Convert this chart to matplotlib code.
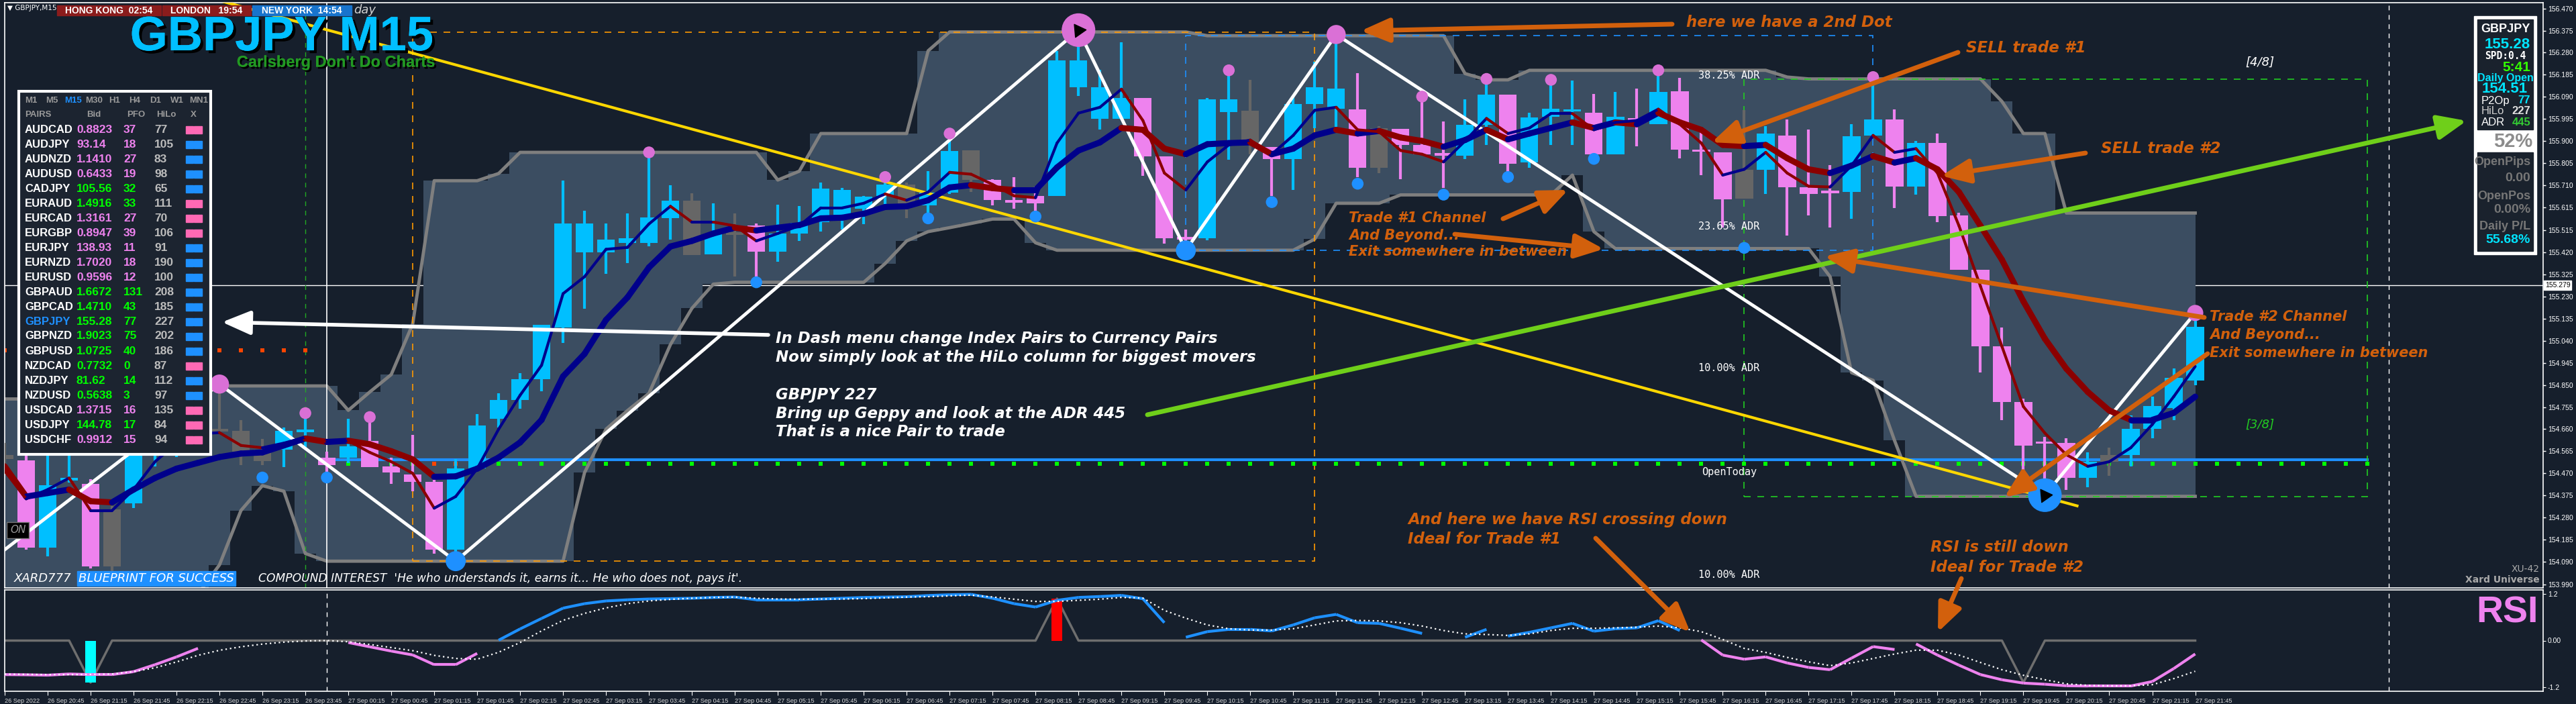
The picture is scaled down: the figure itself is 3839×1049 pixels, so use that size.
import matplotlib
matplotlib.use("Agg")
import matplotlib.pyplot as plt
import matplotlib.patheffects as pe
import numpy as np
import pandas as pd
from matplotlib.collections import LineCollection
from matplotlib.patches import Rectangle, FancyArrowPatch

# ---------------------------------------------------------------- data
bar_start = "2022-09-26 20:15"

opens = [154.55, 154.527, 154.149, 154.44, 154.425, 154.07, 154.34, 154.56, 154.70, 154.78,
         154.66, 154.652, 154.571, 154.571, 154.650, 154.538, 154.538, 154.608, 154.501, 154.465,
         154.433, 154.141, 154.49, 154.705, 154.786, 154.874, 155.097, 155.421, 155.421, 155.462,
         155.462, 155.567, 155.643, 155.413, 155.505, 155.535, 155.424, 155.502, 155.551, 155.583,
         155.608, 155.664, 155.713, 155.624, 155.677, 155.859, 155.732, 155.642, 155.664, 155.664,
         156.131, 155.995, 155.995, 156.086, 155.833, 155.483, 155.481, 156.024, 156.029, 155.875,
         155.823, 156.060, 156.040, 156.037, 155.956, 155.953, 155.883, 155.845, 155.838, 155.969,
         156.099, 155.807, 156.005, 156.030, 156.021, 155.843, 155.994, 155.972, 156.115, 155.861,
         155.851, 155.651, 155.775, 155.924, 155.700, 155.683, 155.681, 155.924, 155.992, 155.705,
         155.891, 155.580, 155.347, 155.016, 154.776, 154.605, 154.60, 154.45, 154.52, 154.55,
         154.66, 154.75, 154.87]
highs = [154.60, 154.546, 154.554, 154.56, 154.446, 154.33, 154.66, 154.74, 154.80, 154.82,
         154.84, 154.70, 154.619, 154.668, 154.724, 154.562, 154.705, 154.692, 154.538, 154.635,
         154.441, 154.53, 154.724, 154.814, 154.90, 155.11, 155.729, 155.60, 155.546, 155.587,
         155.851, 155.71, 155.674, 155.632, 155.587, 155.546, 155.627, 155.619, 155.721, 155.697,
         155.664, 155.737, 155.721, 155.77, 155.907, 155.859, 155.737, 155.745, 155.705, 156.288,
         156.369, 156.207, 156.326, 156.086, 155.833, 155.52, 156.086, 156.199, 156.163, 155.875,
         156.094, 156.240, 156.353, 156.191, 155.964, 155.953, 156.086, 155.984, 156.078, 156.16,
         156.099, 156.021, 156.163, 156.159, 156.102, 156.110, 156.126, 156.199, 156.172, 155.948,
         155.851, 156.034, 155.964, 155.992, 155.948, 155.797, 155.972, 156.167, 156.037, 155.899,
         155.932, 155.591, 155.347, 155.097, 154.79, 154.627, 154.62, 154.56, 154.58, 154.72,
         154.80, 154.92, 155.13]
lows = [154.48, 154.141, 154.112, 154.43, 154.06, 154.05, 154.32, 154.50, 154.54, 154.66,
        154.64, 154.506, 154.506, 154.498, 154.579, 154.473, 154.514, 154.498, 154.425, 154.392,
        154.125, 154.125, 154.481, 154.668, 154.749, 154.822, 155.032, 155.178, 155.327, 155.376,
        155.446, 155.476, 155.408, 155.412, 155.316, 155.308, 155.381, 155.470, 155.510, 155.519,
        155.543, 155.624, 155.567, 155.583, 155.672, 155.681, 155.624, 155.608, 155.600, 155.664,
        156.094, 155.948, 155.992, 155.749, 155.457, 155.43, 155.473, 155.818, 155.843, 155.664,
        155.689, 155.956, 155.956, 155.745, 155.762, 155.737, 155.843, 155.697, 155.823, 155.883,
        155.76, 155.786, 155.883, 155.883, 155.843, 155.843, 155.878, 155.972, 155.826, 155.754,
        155.527, 155.651, 155.672, 155.494, 155.580, 155.527, 155.564, 155.924, 155.611, 155.668,
        155.551, 155.347, 154.903, 154.700, 154.384, 154.384, 154.40, 154.41, 154.46, 154.50,
        154.62, 154.70, 154.85]
closes = [154.53, 154.149, 154.420, 154.45, 154.068, 154.316, 154.62, 154.70, 154.76, 154.70,
          154.65, 154.562, 154.522, 154.652, 154.655, 154.506, 154.587, 154.498, 154.473, 154.433,
          154.141, 154.49, 154.676, 154.786, 154.874, 155.11, 155.546, 155.546, 155.476, 155.481,
          155.570, 155.643, 155.408, 155.499, 155.499, 155.424, 155.502, 155.548, 155.694, 155.690,
          155.661, 155.713, 155.632, 155.677, 155.856, 155.732, 155.645, 155.638, 155.632, 156.248,
          156.248, 156.131, 156.086, 155.833, 155.481, 155.479, 156.078, 156.078, 155.891, 155.823,
          156.060, 156.131, 156.125, 155.784, 155.784, 155.883, 155.843, 155.841, 155.969, 156.099,
          155.802, 156.000, 156.040, 156.034, 155.843, 156.005, 155.990, 156.112, 155.862, 155.857,
          155.648, 155.775, 155.932, 155.700, 155.672, 155.679, 155.920, 155.992, 155.705, 155.891,
          155.578, 155.347, 155.016, 154.776, 154.590, 154.600, 154.45, 154.52, 154.55, 154.66,
          154.76, 154.88, 155.10]
# B = blue trend, P = pink trend, N = neutral (grey); ten bars per chunk
candle_color = list("NPBBPNBBBP" "NNNBBPBPPP" "PBBBBBBBBB" "BBNBNPBBBB" "BBNBBNPPPB"
                    "BBBPPPBBNP" "BBBPNPPPBB" "PBBBPBPBPP" "PNBPPPBBPB" "PPPPPPPBNB" "BBB")

ma_fast = [154.48, 154.36, 154.40, 154.45, 154.31, 154.31, 154.40, 154.52, 154.60, 154.64,
           154.645, 154.59, 154.58, 154.60, 154.625, 154.605, 154.61, 154.56, 154.52, 154.47,
           154.32, 154.37, 154.49, 154.66, 154.806, 154.935, 155.243, 155.316, 155.434, 155.442,
           155.543, 155.619, 155.551, 155.551, 155.535, 155.47, 155.502, 155.535, 155.612, 155.612,
           155.632, 155.672, 155.645, 155.68, 155.765, 155.757, 155.713, 155.664, 155.656, 155.891,
           156.02, 156.045, 156.123, 155.988, 155.762, 155.689, 155.81, 155.883, 155.904, 155.843,
           155.924, 156.032, 156.045, 155.948, 155.94, 155.859, 155.843, 155.81, 155.90, 155.997,
           155.932, 155.956, 156.018, 156.018, 155.948, 155.98, 155.988, 156.037, 155.972, 155.891,
           155.753, 155.778, 155.851, 155.762, 155.705, 155.702, 155.794, 155.924, 155.851, 155.867,
           155.762, 155.535, 155.275, 155.016, 154.757, 154.643, 154.55, 154.50, 154.52, 154.58,
           154.68, 154.80, 154.93]
ma_slow = [154.50, 154.37, 154.385, 154.40, 154.35, 154.345, 154.40, 154.45, 154.49, 154.515,
           154.54, 154.555, 154.56, 154.59, 154.62, 154.605, 154.61, 154.595, 154.565, 154.53,
           154.455, 154.457, 154.49, 154.538, 154.603, 154.70, 154.887, 154.984, 155.13, 155.227,
           155.356, 155.446, 155.47, 155.502, 155.527, 155.515, 155.527, 155.538, 155.567, 155.57,
           155.587, 155.616, 155.619, 155.645, 155.70, 155.71, 155.697, 155.689, 155.689, 155.786,
           155.859, 155.894, 155.956, 155.948, 155.867, 155.843, 155.886, 155.891, 155.894, 155.843,
           155.867, 155.924, 155.948, 155.932, 155.943, 155.915, 155.90, 155.875, 155.904, 155.948,
           155.907, 155.932, 155.956, 155.98, 155.956, 155.98, 155.972, 156.021, 155.98, 155.948,
           155.883, 155.878, 155.883, 155.826, 155.778, 155.762, 155.794, 155.835, 155.807, 155.826,
           155.778, 155.68, 155.535, 155.389, 155.21, 155.049, 154.92, 154.82, 154.74, 154.70,
           154.70, 154.73, 154.80]

band_upper = [154.79, 154.79, 154.80, 154.80, 154.80, 154.80, 154.80, 154.80, 154.80, 154.80,
              154.846, 154.846, 154.846, 154.846, 154.846, 154.846, 154.741, 154.82, 154.895, 155.113,
              155.729, 155.729, 155.729, 155.76, 155.851, 155.851, 155.851, 155.851, 155.851, 155.851,
              155.851, 155.851, 155.851, 155.851, 155.851, 155.851, 155.732, 155.77, 155.932, 155.932,
              155.932, 155.932, 155.932, 156.288, 156.369, 156.369, 156.369, 156.369, 156.369, 156.369,
              156.369, 156.369, 156.369, 156.369, 156.369, 156.369, 156.353, 156.353, 156.353, 156.353,
              156.353, 156.353, 156.353, 156.353, 156.353, 156.353, 156.353, 156.353, 156.19, 156.163,
              156.163, 156.204, 156.204, 156.204, 156.204, 156.204, 156.204, 156.204, 156.204, 156.204,
              156.204, 156.204, 156.204, 156.175, 156.167, 156.167, 156.167, 156.167, 156.167, 156.167,
              156.167, 156.167, 156.167, 156.07, 155.932, 155.932, 155.59, 155.59, 155.59, 155.59,
              155.59, 155.59, 155.59]
band_lower = [153.95, 153.95, 153.95, 153.95, 153.95, 153.95, 153.95, 153.95, 153.95, 153.95,
              154.076, 154.31, 154.417, 154.393, 154.125, 154.092, 154.092, 154.092, 154.092, 154.092,
              154.092, 154.092, 154.092, 154.092, 154.092, 154.092, 154.092, 154.473, 154.66, 154.74,
              154.814, 155.024, 155.18, 155.284, 155.292, 155.292, 155.292, 155.292, 155.292, 155.292,
              155.292, 155.373, 155.47, 155.51, 155.527, 155.545, 155.564, 155.564, 155.462, 155.43,
              155.43, 155.43, 155.43, 155.43, 155.43, 155.43, 155.43, 155.43, 155.43, 155.43,
              155.43, 155.478, 155.632, 155.632, 155.632, 155.668, 155.668, 155.668, 155.668, 155.668,
              155.668, 155.668, 155.668, 155.753, 155.51, 155.437, 155.437, 155.437, 155.437, 155.437,
              155.437, 155.437, 155.437, 155.437, 155.437, 155.316, 154.903, 154.87, 154.611, 154.371,
              154.371, 154.371, 154.371, 154.371, 154.371, 154.371, 154.371, 154.371, 154.371, 154.371,
              154.371, 154.371, 154.371]

zigzag_bar = [-1, 10, 21, 50, 55, 62, 95, 102]
zigzag_price = [154.07, 154.854, 154.092, 156.377, 155.43, 156.358, 154.376, 155.16]
trend_bar = [10, 96.5]
trend_price = [156.504, 154.33]

pink_dot_bar = [10, 14, 17, 30, 41, 44, 50, 57, 62, 66, 69, 72, 77, 87, 102]
pink_dot_price = [154.854, 154.729, 154.712, 155.851, 155.745, 155.932, 156.377, 156.204,
                  156.358, 156.091, 156.167, 156.163, 156.204, 156.175, 155.16]
pink_dot_size = [420, 160, 160, 160, 160, 160, 1300, 160, 420, 160, 160, 160, 160, 160, 300]
blue_dot_bar = [5, 12, 15, 21, 35, 43, 48, 55, 59, 63, 67, 70, 74, 81, 95]
blue_dot_price = [154.02, 154.452, 154.452, 154.092, 155.292, 155.567, 155.575, 155.429,
                  155.637, 155.716, 155.669, 155.745, 155.823, 155.44, 154.376]
blue_dot_size = [160, 160, 160, 460, 160, 160, 160, 460, 160, 160, 160, 160, 160, 160, 1300]

bid_price = 155.279
open_today = 154.528
pivot_green = 154.51
pivot_red = 155.0
green_dot_bars = list(range(16, 20)) + list(range(22, 111))
red_dot_bars = [0, 10, 11, 12, 13, 14]
red_low_dot_bars = [20, 21]

price_ticks = [156.470, 156.375, 156.280, 156.185, 156.090, 155.995, 155.900, 155.805, 155.710,
               155.615, 155.515, 155.420, 155.325, 155.230, 155.135, 155.040, 154.945, 154.850,
               154.755, 154.660, 154.565, 154.470, 154.375, 154.280, 154.185, 154.090, 153.990]

adr_labels = ["38.25% ADR", "23.65% ADR", "10.00% ADR", "10.00% ADR"]
adr_levels = [156.183, 155.533, 154.924, 154.034]

rsi_main = [-0.875, -0.88, -0.89, -0.86, -0.875, -0.875, -0.80, -0.62, -0.42, -0.20,
            np.nan, np.nan, np.nan, np.nan, np.nan, np.nan, -0.05, -0.16, -0.27, -0.37,
            -0.62, -0.62, -0.33, 0.01, 0.30, 0.57, 0.835, 0.95, 1.02, 1.05,
            1.07, 1.08, 1.09, 1.11, 1.12, 1.05, 1.05, 1.05, 1.07, 1.09,
            1.11, 1.12, 1.13, 1.16, 1.18, 1.19, 1.09, 0.95, 0.863, 1.036,
            1.111, 1.134, 1.163, 1.077, 0.46, 0.086, 0.23, 0.288, 0.288, 0.248,
            0.403, 0.587, 0.674, 0.46, 0.443, 0.317, 0.184, np.nan, 0.086, 0.288,
            0.115, 0.213, 0.328, 0.443, 0.242, 0.305, 0.328, 0.512, 0.259, 0.017,
            -0.374, -0.48, -0.42, -0.576, -0.691, -0.749, -0.45, -0.155, -0.23, -0.086,
            -0.374, -0.633, -0.875, -1.008, -1.094, -1.123, -1.163, -1.169, -1.169, -1.169,
            -1.054, -0.72, -0.345]
rsi_breaks = [22, 54, 69, 78, 88]
rsi_trend = ["P"] * 23 + ["B"] * 56 + ["P"] * 24
rsi_signal = [-0.864, -0.87, -0.875, -0.875, -0.87, -0.86, -0.80, -0.70, -0.55, -0.38,
              -0.25, -0.16, -0.09, -0.04, -0.01, 0.0, -0.03, -0.10, -0.18, -0.26,
              -0.38, -0.46, -0.48, -0.30, -0.05, 0.25, 0.52, 0.70, 0.84, 0.95,
              1.02, 1.06, 1.09, 1.11, 1.12, 1.09, 1.07, 1.065, 1.07, 1.07,
              1.08, 1.10, 1.12, 1.13, 1.15, 1.168, 1.123, 1.065, 1.008, 1.008,
              1.036, 1.065, 1.111, 1.094, 0.777, 0.576, 0.403, 0.305, 0.271, 0.271,
              0.305, 0.403, 0.506, 0.518, 0.506, 0.46, 0.374, 0.259, 0.173, 0.156,
              0.133, 0.173, 0.259, 0.317, 0.317, 0.328, 0.345, 0.374, 0.328, 0.23,
              0.029, -0.201, -0.305, -0.432, -0.547, -0.645, -0.576, -0.461, -0.345, -0.247,
              -0.247, -0.374, -0.564, -0.749, -0.893, -1.008, -1.112, -1.152, -1.163, -1.163,
              -1.135, -0.979, -0.789]
rsi_cross = [0.0] * 103
rsi_cross[4] = -1.08
rsi_cross[49] = 1.08
rsi_cross[94] = -1.08
cross_bar = [4, 49]
cross_color = ["#00ffff", "#ff0000"]

dash_pairs = ["AUDCAD", "AUDJPY", "AUDNZD", "AUDUSD", "CADJPY", "EURAUD", "EURCAD", "EURGBP",
              "EURJPY", "EURNZD", "EURUSD", "GBPAUD", "GBPCAD", "GBPJPY", "GBPNZD", "GBPUSD",
              "NZDCAD", "NZDJPY", "NZDUSD", "USDCAD", "USDJPY", "USDCHF"]
dash_bid = ["0.8823", "93.14", "1.1410", "0.6433", "105.56", "1.4916", "1.3161", "0.8947",
            "138.93", "1.7020", "0.9596", "1.6672", "1.4710", "155.28", "1.9023", "1.0725",
            "0.7732", "81.62", "0.5638", "1.3715", "144.78", "0.9912"]
dash_pfo = [37, 18, 27, 19, 32, 33, 27, 39, 11, 18, 12, 131, 43, 77, 75, 40, 0, 14, 3, 16, 17, 15]
dash_hilo = [77, 105, 83, 98, 65, 111, 70, 106, 91, 190, 100, 208, 185, 227, 202, 186, 87, 112,
             97, 135, 84, 94]
dash_up = "PPPPGGPPPPPGGGGGGGGPGP"
dash_x = "PBBBBPPPBBBBBBBBPBBPPP"

# ---------------------------------------------------------------- style
W, H = 3839, 1049
BG = "#161f2c"
BAND = "#3b4d61"
BAND_EDGE = "#7f7f7f"
CANDLE = {"B": "#00bfff", "P": "#ee82ee", "N": "#666666"}
MA_UP, MA_DN = "#00008b", "#8b0000"
ORANGE = "#d2600c"
LIME = "#6fcf1a"
PINK_DOT = "#da70d6"
BLUE_DOT = "#1e90ff"
LIB = "Liberation Sans"

plt.rcParams["font.family"] = ["DejaVu Sans"]

fig = plt.figure(figsize=(W / 100, H / 100), dpi=100, facecolor=BG)


def frac(x, y):
    return x / W, 1 - y / H


def ftext(x, y, s, **kw):
    kw.setdefault("va", "center")
    kw.setdefault("zorder", 12)
    fig.text(x / W, 1 - y / H, s, **kw)


def frect(x0, y0, x1, y1, **kw):
    kw.setdefault("zorder", 10)
    fig.add_artist(Rectangle((x0 / W, 1 - y1 / H), (x1 - x0) / W, (y1 - y0) / H,
                             transform=fig.transFigure, **kw))


def farrow(x0, y0, x1, y1, color, lw=5, head=(1.3, 0.55), z=11):
    fig.add_artist(FancyArrowPatch(frac(x0, y0), frac(x1, y1), transform=fig.transFigure,
                                   arrowstyle=f"-|>,head_length={head[0]},head_width={head[1]}",
                                   mutation_scale=20, lw=lw, color=color, zorder=z,
                                   shrinkA=0, shrinkB=0))


def shadow(dx):
    return [pe.withSimplePatchShadow(offset=(dx, -dx), shadow_rgbFace="black", alpha=1),
            pe.Normal()]


ax = fig.add_axes([7 / W, 1 - 876 / H, (3790 - 7) / W, (876 - 4) / H], facecolor=BG)
axr = fig.add_axes([7 / W, 1 - 1030 / H, (3790 - 7) / W, (1030 - 879) / H], facecolor=BG)

n = len(opens)
x = np.arange(n)
for a in (ax, axr):
    a.set_xlim(0, 118.2)
    for s in a.spines.values():
        s.set_color("white")
        s.set_linewidth(1.2)
ax.set_ylim(153.977, 156.495)
axr.set_ylim(-1.304, 1.304)

# ---------------------------------------------------------------- main panel
ax.axhline(bid_price, color="white", lw=1, zorder=0.5)
ax.fill_between(x, band_lower, band_upper, step="mid", color=BAND, lw=0, zorder=1)
ax.plot(x, band_upper, color=BAND_EDGE, lw=3.5, zorder=1.5)
ax.plot(x, band_lower, color=BAND_EDGE, lw=3.5, zorder=1.5)

ax.axvline(15, color="white", lw=1.2, zorder=1.6)
ax.axvline(111, color="white", lw=1, ls=(0, (5, 5)), zorder=1.6)
ax.axvline(14, color="#22aa22", lw=1, ls=(0, (5, 5)), zorder=1.6)
ax.add_patch(Rectangle((19, 154.093), 42, 156.368 - 154.093, fill=False, ec="#ff9900",
                       lw=1.2, ls=(0, (6, 6)), zorder=1.7))
ax.add_patch(Rectangle((55, 155.43), 32, 156.353 - 155.43, fill=False, ec="#1e90ff",
                       lw=1.2, ls=(0, (6, 6)), zorder=1.7))
ax.add_patch(Rectangle((81, 154.37), 29, 156.165 - 154.37, fill=False, ec="#22cc22",
                       lw=1.2, ls=(0, (6, 6)), zorder=1.7))

ax.plot([15, 110], [open_today, open_today], color="#1e90ff", lw=3, zorder=1.2)
ax.scatter(green_dot_bars, [pivot_green] * len(green_dot_bars), marker="s", s=14,
           color="#00ff00", zorder=1.8, lw=0)
ax.scatter(red_low_dot_bars, [pivot_green] * len(red_low_dot_bars), marker="s", s=14,
           color="#ff4500", zorder=1.8, lw=0)
ax.scatter(red_dot_bars, [pivot_red] * len(red_dot_bars), marker="s", s=14,
           color="#ff4500", zorder=1.8, lw=0)

lo_body = np.minimum(opens, closes)
hi_body = np.maximum(opens, closes)
body_h = np.maximum(hi_body - lo_body, 0.010)
mid = (lo_body + hi_body) / 2
ccol = [CANDLE[c] for c in candle_color]
ax.vlines(x, lows, highs, colors=ccol, lw=3, zorder=3)
ax.bar(x, body_h, bottom=mid - body_h / 2, width=0.82, color=ccol, lw=0, zorder=3)

ax.plot(zigzag_bar, zigzag_price, color="white", lw=3.5, zorder=3.5, solid_capstyle="round")
ax.plot(trend_bar, trend_price, color="#ffd700", lw=3, zorder=3.6)


def ma_line(vals, lw, z):
    v = np.asarray(vals)
    pts = np.column_stack([x, v])
    segs = np.stack([pts[:-1], pts[1:]], axis=1)
    cols = [MA_UP if b >= a else MA_DN for a, b in zip(v[:-1], v[1:])]
    ax.add_collection(LineCollection(segs, colors=cols, linewidths=lw, zorder=z,
                                     capstyle="round"))


ma_line(ma_slow, 6.5, 4)
ma_line(ma_fast, 3, 4.1)

ax.scatter(pink_dot_bar, pink_dot_price, s=pink_dot_size, color=PINK_DOT, zorder=5, lw=0)
ax.scatter(blue_dot_bar, blue_dot_price, s=blue_dot_size, color=BLUE_DOT, zorder=5, lw=0)
ax.scatter([50, 95], [156.377, 154.376], marker=(3, 0, 35), s=260, color="black", zorder=5.5)

for lab, lvl in zip(adr_labels, adr_levels):
    ax.text(80.3, lvl, lab, color="white", fontsize=11, family="DejaVu Sans Mono",
            ha="center", va="center", zorder=6)
ax.text(80.3, 154.476, "OpenToday", color="white", fontsize=11, family="DejaVu Sans Mono",
        ha="center", va="center", zorder=6)
ax.text(105, 156.24, "[4/8]", color="white", fontsize=13, style="italic", ha="center",
        va="center", zorder=6)
ax.text(105, 154.68, "[3/8]", color="#22cc22", fontsize=13, style="italic", ha="center",
        va="center", zorder=6)

ax.set_xticks([])
ax.yaxis.tick_right()
ax.set_yticks(price_ticks)
ax.set_yticklabels([f"{p:.3f}" for p in price_ticks])
ax.tick_params(axis="y", colors="white", labelsize=7.5, length=3, width=1, pad=2)
for t in ax.get_yticklabels():
    t.set_family(LIB)

# ---------------------------------------------------------------- RSI panel
axr.plot(x, rsi_cross, color="#6e6e6e", lw=2.5, zorder=2)
for b, c in zip(cross_bar, cross_color):
    axr.bar(b, rsi_cross[b], width=0.5, color=c, zorder=2.5, lw=0)
rv = np.asarray(rsi_main)
rsegs, rcols = [], []
for i in range(n - 1):
    if np.isnan(rv[i]) or np.isnan(rv[i + 1]) or i in rsi_breaks:
        continue
    rsegs.append([(i, rv[i]), (i + 1, rv[i + 1])])
    rcols.append("#1e90ff" if rsi_trend[i] == "B" else "#ee82ee")
axr.add_collection(LineCollection(rsegs, colors=rcols, linewidths=3, zorder=3))
axr.plot(x, rsi_signal, color="white", lw=1.6, ls=(0, (1, 2)), zorder=3.5)
axr.axvline(15, color="white", lw=1, ls=(0, (5, 5)))
axr.axvline(111, color="white", lw=1, ls=(0, (5, 5)))

axr.yaxis.tick_right()
axr.set_yticks([1.2, 0.0, -1.2])
axr.set_yticklabels(["1.2", "0.00", "-1.2"])
axr.tick_params(axis="y", colors="white", labelsize=7.5, length=3, pad=2)

times = pd.date_range(bar_start, periods=n, freq="15min")
tick_idx = list(range(0, n, 2))
tick_lab = [times[k].strftime("%d %b %Y") if k == 0 else times[k].strftime("%d %b %H:%M")
            for k in tick_idx]
axr.set_xticks(tick_idx)
axr.set_xticklabels(tick_lab)
axr.tick_params(axis="x", colors="white", labelcolor="#dcdcdc", labelsize=6.6, length=4, pad=3)
for t in axr.get_xticklabels():
    t.set_ha("left")
    t.set_family(LIB)
for t in axr.get_yticklabels():
    t.set_family(LIB)

# ---------------------------------------------------------------- header overlays
ftext(11, 12, "\u25bc GBPJPY,M15", color="white", fontsize=7.5)
for (x0, x1, lab, col) in [(85, 240, "HONG KONG  02:54", "#8b1c1c"),
                           (242, 374, "LONDON   19:54", "#8b1c1c"),
                           (376, 524, "NEW YORK  14:54", "#1874cd")]:
    frect(x0, 8, x1, 23, color=col, zorder=11)
    ftext((x0 + x1) / 2, 15.5, lab, color="white", fontsize=10, weight="bold",
          family=LIB, ha="center")
ftext(527, 15, "day", color="#cfcfcf", fontsize=13, style="italic")
ftext(420, 56, "GBPJPY M15", color="#00bfff", fontsize=52, weight="bold", family=LIB,
      ha="center", path_effects=shadow(3))
ftext(501, 93, "Carlsberg Don't Do Charts", color="#229922", fontsize=17, weight="bold",
      family=LIB, ha="center", path_effects=shadow(2))

# dashboard
frect(28, 136, 314, 677, facecolor="#1c2430", edgecolor="white", lw=3, zorder=10)
for lab, xx in zip(["M1", "M5", "M15", "M30", "H1", "H4", "D1", "W1", "MN1"],
                   [37, 68, 96, 127, 162, 192, 223, 254, 282]):
    ftext(xx, 150, lab, color="#1e90ff" if lab == "M15" else "#9a9a9a", fontsize=9.5,
          weight="bold", family=LIB)
for lab, xx in zip(["PAIRS", "Bid", "PFO", "HiLo", "X"], [37, 129, 189, 233, 284]):
    ftext(xx, 171, lab, color="#9a9a9a", fontsize=9.5, weight="bold", family=LIB)
for k, pair in enumerate(dash_pairs):
    yy = 193 + 22.0 * k
    vcol = "#00ff00" if dash_up[k] == "G" else "#ee82ee"
    ftext(37, yy, pair, color="#1e90ff" if pair == "GBPJPY" else "white", fontsize=12,
          weight="bold", family=LIB)
    ftext(114, yy, dash_bid[k], color=vcol, fontsize=12.5, weight="bold", family=LIB)
    ftext(184, yy, str(dash_pfo[k]), color=vcol, fontsize=12.5, weight="bold", family=LIB)
    ftext(230, yy, str(dash_hilo[k]), color="#bdbdbd", fontsize=12.5, weight="bold",
          family=LIB)
    sq = "#ff69b4" if dash_x[k] == "P" else "#1e90ff"
    frect(277, yy - 5, 288, yy + 6, color=sq, zorder=11)
    frect(289, yy - 5, 301, yy + 6, color=sq, zorder=11)

# right info panel
frect(3687, 24, 3780, 379, color="white", zorder=10)
frect(3692, 29, 3775, 193, color="#1a222d", zorder=10.5)
frect(3692, 227, 3775, 374, color="#1a222d", zorder=10.5)
ftext(3771, 43, "GBPJPY", color="white", fontsize=13, weight="bold", family=LIB, ha="right")
ftext(3771, 66, "155.28", color="#00e5ff", fontsize=16, weight="bold", family=LIB, ha="right")
ftext(3734, 83, "SPD:0.4", color="white", fontsize=10.5, weight="bold",
      family="DejaVu Sans Mono", ha="center")
ftext(3771, 100, "5:41", color="#33ff00", fontsize=15, weight="bold", family=LIB, ha="right")
ftext(3734, 116, "Daily Open", color="#00e5ff", fontsize=11.5, weight="bold", family=LIB,
      ha="center")
ftext(3733, 132, "154.51", color="#00e5ff", fontsize=16, weight="bold", family=LIB, ha="center")
for lab, val, yy, lc, vc in [("P2Op", "77", 150, "white", "#00e5ff"),
                              ("HiLo", "227", 166, "#cfcfcf", "#e0e0e0"),
                              ("ADR", "445", 183, "white", "#33cc33")]:
    ftext(3698, yy, lab, color=lc, fontsize=12, family=LIB)
    ftext(3771, yy, val, color=vc, fontsize=12, weight="bold", family=LIB, ha="right")
ftext(3745, 211, "52%", color="#8c8c8c", fontsize=21, weight="bold", family=LIB, ha="center")
for lab, yy, col, fs in [("OpenPips", 242, "#777777", 13), ("0.00", 266, "#777777", 14),
                         ("OpenPos", 293, "#777777", 13), ("0.00%", 313, "#777777", 14),
                         ("Daily P/L", 337, "#777777", 13), ("55.68%", 358, "#00e5ff", 14)]:
    ftext(3771, yy, lab, color=col, fontsize=fs, weight="bold", family=LIB, ha="right")
ftext(3793, 425, "155.279", color="black", fontsize=7.5, family=LIB, zorder=13,
      bbox=dict(boxstyle="square,pad=0.15", fc="white", ec="white"))

# footer / labels
ftext(15, 790, "ON", color="#9a9a9a", fontsize=11, style="italic", zorder=13,
      bbox=dict(boxstyle="square,pad=0.3", fc="black", ec="#777777"))
ftext(21, 862, "XARD777", color="white", fontsize=13, style="italic")
ftext(117, 862, "BLUEPRINT FOR SUCCESS", color="white", fontsize=13, style="italic",
      bbox=dict(boxstyle="square,pad=0.12", fc="#1e90ff", ec="#1e90ff"))
ftext(385, 862, "COMPOUND INTEREST  'He who understands it, earns it... He who does not, pays it'.",
      color="white", fontsize=12.3, style="italic")
ftext(3785, 848, "XU-42", color="#a9a9a9", fontsize=10, ha="right")
ftext(3785, 864, "Xard Universe", color="#a9a9a9", fontsize=10, weight="bold", ha="right")
ftext(3783, 913, "RSI", color="#ee82ee", fontsize=40, weight="bold", family=LIB, ha="right")

# ---------------------------------------------------------------- annotations
wt = dict(color="white", fontsize=16.5, weight="bold", style="italic")
for yy, s in [(504, "In Dash menu change Index Pairs to Currency Pairs"),
              (532, "Now simply look at the HiLo column for biggest movers"),
              (588, "GBPJPY 227"),
              (616, "Bring up Geppy and look at the ADR 445"),
              (643, "That is a nice Pair to trade")]:
    ftext(1156, yy, s, **wt)
farrow(1145, 499, 331, 480, "white", lw=4)
farrow(1710, 618, 3676, 180, LIME, lw=5)

ot = dict(color=ORANGE, fontsize=16.5, weight="bold", style="italic")
ot2 = dict(color=ORANGE, fontsize=15, weight="bold", style="italic")
ftext(2513, 34, "here we have a 2nd Dot", **ot)
farrow(2492, 36, 2028, 46, ORANGE)
ftext(2930, 72, "SELL trade #1", **ot)
farrow(2918, 78, 2551, 212, ORANGE)
ftext(3131, 222, "SELL trade #2", **ot)
farrow(3108, 228, 2893, 262, ORANGE)
for yy, s in [(325, "Trade #1 Channel"), (351, "And Beyond..."), (375, "Exit somewhere in between")]:
    ftext(2010, yy, s, **ot2)
farrow(2240, 326, 2337, 283, ORANGE)
farrow(2168, 349, 2390, 371, ORANGE)
for yy, s in [(472, "Trade #2 Channel"), (499, "And Beyond..."), (526, "Exit somewhere in between")]:
    ftext(3293, yy, s, **ot2)
farrow(3285, 473, 2719, 382, ORANGE)
farrow(3290, 527, 2987, 741, ORANGE)
ftext(2098, 774, "And here we have RSI crossing down", **ot)
ftext(2098, 803, "Ideal for Trade #1", **ot)
farrow(2378, 802, 2519, 942, ORANGE)
ftext(2877, 816, "RSI is still down", **ot)
ftext(2877, 845, "Ideal for Trade #2", **ot)
farrow(2923, 862, 2888, 942, ORANGE)

fig.savefig("out.png", dpi=100, facecolor=BG)
